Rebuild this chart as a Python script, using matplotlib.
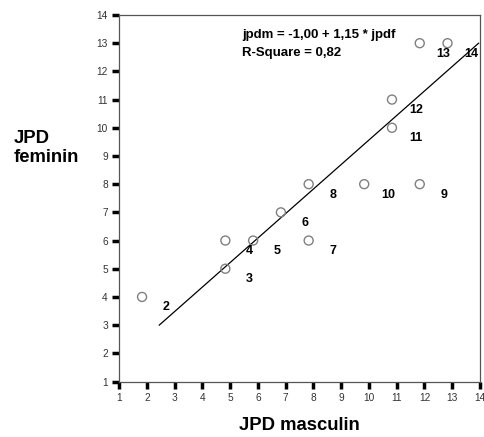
import matplotlib
matplotlib.use("Agg")
import matplotlib.pyplot as plt
import numpy as np

plt.rcParams['font.family'] = ['Liberation Sans', 'DejaVu Sans']

# data
jpd_masculin = [1.83, 4.83, 4.83, 5.83, 6.83, 7.83, 7.83, 11.83, 9.83, 10.83, 10.83, 11.83, 12.83]
jpd_feminin = [4, 5, 6, 6, 7, 6, 8, 8, 8, 10, 11, 13, 13]
point_labels = ['2', '3', '4', '5', '6', '7', '8', '9', '10', '11', '12', '13', '14']
intercept = -1.00
slope = 1.15
fit_y_range = [3, 13]
ticks = list(range(1, 15))

fig = plt.figure(figsize=(4.84, 4.37), dpi=100)
ax = fig.add_axes([119/484, 1 - 381.5/437, 361/484, 366.5/437])

ax.scatter(jpd_masculin, jpd_feminin, s=42, facecolors='none', edgecolors='#808080', linewidths=1.0, zorder=3)

fy = np.array(fit_y_range, dtype=float)
fx = intercept + slope * fy
ax.plot(fx, fy, color='black', lw=0.9, zorder=2)

for x, y, lab in zip(jpd_masculin, jpd_feminin, point_labels):
    ax.annotate(lab, (x, y), xytext=(24, -10.5), textcoords='offset pixels',
                ha='center', va='center', fontsize=9, fontweight='bold', color='black')

ax.set_xlim(1, 14)
ax.set_ylim(1, 14)
ax.set_xticks(ticks)
ax.set_yticks(ticks)
ax.tick_params(axis='both', direction='out', length=5, width=2.5, color='black',
               labelsize=7.3, labelcolor='#333333', pad=3)
for s in ax.spines.values():
    s.set_color('#555555')
    s.set_linewidth(0.9)

fig.text(242/484, 1 - 38/437, 'jpdm = -1,00 + 1,15 * jpdf', fontsize=9.5, fontweight='bold', ha='left', va='baseline')
fig.text(242/484, 1 - 56/437, 'R-Square = 0,82', fontsize=9.5, fontweight='bold', ha='left', va='baseline')

fig.text(299/484, 1 - 426/437, 'JPD masculin', fontsize=13.3, fontweight='bold', ha='center', va='center')
fig.text(14/484, 1 - 148/437, 'JPD\nfeminin', fontsize=13.3, fontweight='bold', ha='left', va='center', linespacing=1.2)

fig.savefig('out.png', dpi=100)
